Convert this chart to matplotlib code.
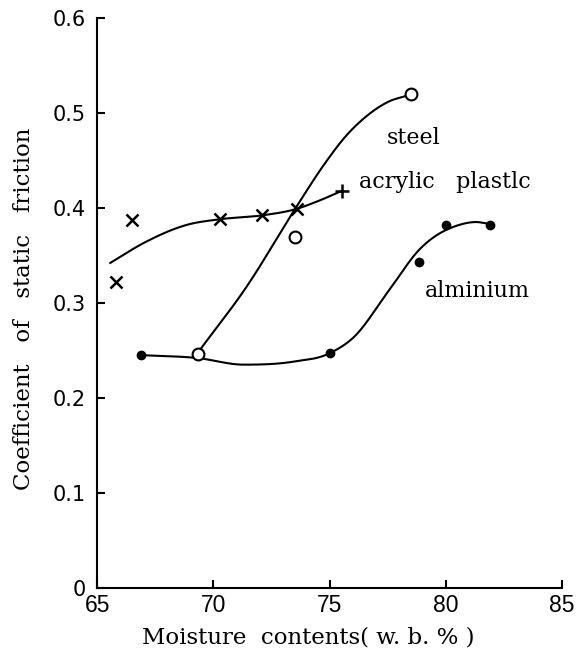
import numpy as np
import matplotlib
matplotlib.use('Agg')
import matplotlib.pyplot as plt

steel_x = [69.35, 73.5, 78.5]
steel_y = [0.246, 0.369, 0.520]
acryl_x = [65.8, 66.5, 70.3, 72.1, 73.6]
acryl_y = [0.322, 0.387, 0.388, 0.392, 0.399]
acryl_end_x = [75.55]
acryl_end_y = [0.418]
alu_x = [66.9, 75.0, 78.86, 80.0, 81.9]
alu_y = [0.245, 0.247, 0.343, 0.382, 0.382]

# hand drawn fitted curves (points along each curve)
steel_cx = [69.4, 71.4, 73.57, 74.72, 75.72, 76.57, 77.57, 78.35]
steel_cy = [0.250, 0.316, 0.401, 0.444, 0.476, 0.496, 0.512, 0.518]
acryl_cx = [65.56, 67.0, 68.85, 70.3, 72.1, 73.6, 74.5, 75.55]
acryl_cy = [0.342, 0.363, 0.382, 0.388, 0.392, 0.399, 0.407, 0.418]
alu_cx = [66.9, 69.3, 71.3, 73.4, 75.0, 76.0, 77.58, 78.86, 80.58, 81.3, 81.87]
alu_cy = [0.245, 0.242, 0.235, 0.238, 0.247, 0.263, 0.314, 0.356, 0.382, 0.385, 0.383]


def smooth(xs, ys, n=300):
    # cubic hermite with parabolic (Bessel) slopes, flat at turning points
    x = np.asarray(xs, float)
    y = np.asarray(ys, float)
    h = np.diff(x)
    s = np.diff(y) / h
    m = np.zeros(len(x))
    m[0], m[-1] = s[0], s[-1]
    for i in range(1, len(x) - 1):
        if s[i - 1] * s[i] > 0:
            m[i] = (h[i] * s[i - 1] + h[i - 1] * s[i]) / (h[i - 1] + h[i])
    xx = np.linspace(x[0], x[-1], n)
    i = np.clip(np.searchsorted(x, xx) - 1, 0, len(x) - 2)
    t = (xx - x[i]) / h[i]
    h00 = 2 * t ** 3 - 3 * t ** 2 + 1
    h10 = t ** 3 - 2 * t ** 2 + t
    h01 = -2 * t ** 3 + 3 * t ** 2
    h11 = t ** 3 - t ** 2
    yy = h00 * y[i] + h10 * h[i] * m[i] + h01 * y[i + 1] + h11 * h[i] * m[i + 1]
    return xx, yy


fig = plt.figure(figsize=(5.86, 6.52), dpi=100)
ax = fig.add_axes([0.166, 0.098, 0.793, 0.875])

for cx, cy in [(steel_cx, steel_cy), (acryl_cx, acryl_cy), (alu_cx, alu_cy)]:
    sx, sy = smooth(cx, cy)
    ax.plot(sx, sy, color='black', lw=1.5, zorder=2)

ax.plot(steel_x, steel_y, 'o', ms=8.5, mfc='white', mec='black', mew=1.5, zorder=3)
ax.plot(acryl_x, acryl_y, 'x', ms=8, mec='black', mew=1.8, zorder=3)
ax.plot(acryl_end_x, acryl_end_y, '+', ms=10, mec='black', mew=1.8, zorder=3)
ax.plot(alu_x, alu_y, 'o', ms=6, mfc='black', mec='black', zorder=3)

serif = 'DejaVu Serif'
ax.text(77.45, 0.473, 'steel', fontsize=16, family=serif, va='center')
ax.text(76.25, 0.427, 'acrylic   plastlc', fontsize=16, family=serif, va='center')
ax.text(79.1, 0.312, 'alminium', fontsize=16, family=serif, va='center')

ax.set_xlim(65, 85)
ax.set_ylim(0, 0.6)
ax.set_xticks([65, 70, 75, 80, 85])
ax.set_yticks([0, 0.1, 0.2, 0.3, 0.4, 0.5, 0.6])
ax.set_yticklabels(['0', '0.1', '0.2', '0.3', '0.4', '0.5', '0.6'])
ax.spines['top'].set_visible(False)
ax.spines['right'].set_visible(False)
for s in ['left', 'bottom']:
    ax.spines[s].set_linewidth(1.5)
ax.tick_params(direction='in', length=6, width=1.5)
ax.tick_params(axis='x', pad=4)
ax.tick_params(axis='y', pad=8)
for lab in ax.get_xticklabels():
    lab.set_family('Liberation Sans')
    lab.set_fontsize(16.5)
for lab in ax.get_yticklabels():
    lab.set_family('DejaVu Sans')
    lab.set_fontsize(15)

ax.set_xlabel('Moisture  contents( w. b. % )', fontsize=16.5, family=serif)
ax.set_ylabel('Coefficient   of   static   friction', fontsize=16.5, family=serif)
ax.xaxis.set_label_coords(0.455, -0.067)
ax.yaxis.set_label_coords(-0.135, 0.49)

fig.savefig('out.png', dpi=100)
